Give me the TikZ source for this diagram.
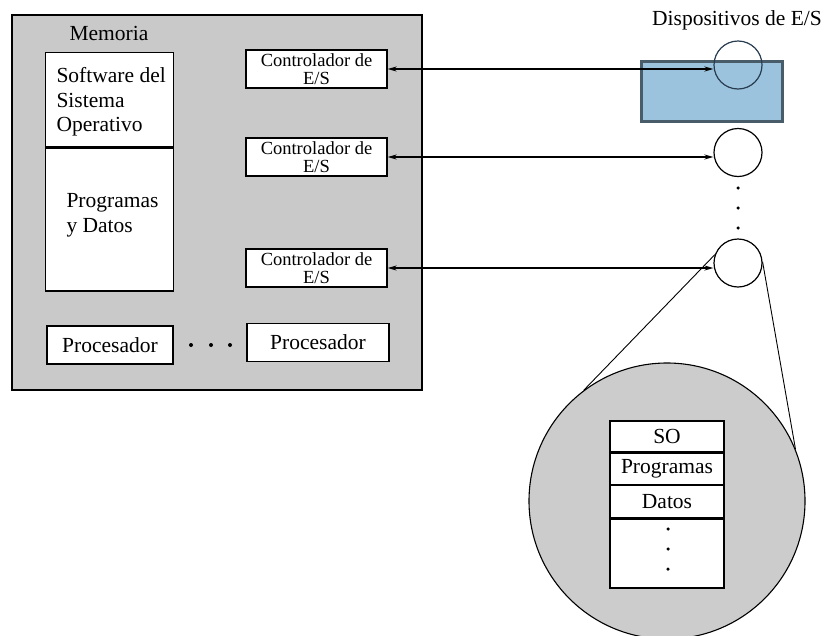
\documentclass[tikz,border=0pt]{standalone}
\usepackage{fontspec}
\setmainfont{Liberation Serif}
\usetikzlibrary{calc,positioning,arrows.meta}

\definecolor{tapa}{RGB}{156,195,221}
\definecolor{tapaborde}{RGB}{72,92,106}
\definecolor{tapalinea}{RGB}{40,60,80}

\begin{document}
\begin{tikzpicture}[>={Stealth[length=9pt,width=5pt]}, x=1pt, y=-1pt,
    box/.style={draw, fill=white, inner sep=0pt, line width=1.3pt},
    lbl/.style={font=\fontsize{21.5}{24.5}\selectfont},
    ctrl/.style={box, minimum width=141pt, minimum height=38pt, align=center,
                 font=\fontsize{18.5}{17.5}\selectfont},
    cpu/.style={box, minimum height=38pt, lbl},
    cell/.style={box, minimum width=114pt, minimum height=31pt, lbl},
    dev/.style={draw, circle, minimum size=48pt, inner sep=0pt, line width=1.2pt},
    pt/.style={fill, circle, inner sep=0pt, minimum size=4pt}]

    % Frame of the picture
    \useasboundingbox (0,0) rectangle (826,635);

    % Draw computer
    \draw[fill=gray!42, line width=1.4pt] (12,15) rectangle (422,390);
    \node[lbl, anchor=west] (memoria) at (66,33) {Memoria};

    % Draw memory
    \node[box, anchor=north west, minimum width=128pt, minimum height=94pt] (memso) at (45,52) {};
    \node[box, anchor=north, minimum width=128pt, minimum height=143pt] (memprog) at (memso.south) {};
    \node[lbl, align=left, anchor=west] (sotext) at (53,102) {Software del\\Sistema\\Operativo};
    \node[lbl, align=left, anchor=west] (progtext) at (63,215.5) {Programas\\y Datos};

    % Draw controllers
    \node[ctrl] (ctrl1) at (316.5,69) {Controlador de\\E/S};
    \node[ctrl] (ctrl2) at (316.5,157) {Controlador de\\E/S};
    \node[ctrl] (ctrl3) at (316.5,268) {Controlador de\\E/S};

    % Draw processors
    \node[cpu, minimum width=126pt] (cpu1) at (110,345) {Procesador};
    \node[cpu, minimum width=142pt] (cpu2) at (318,342.5) {Procesador};
    \foreach \x [count=\i] in {191,211,230}
        \node[pt] (cpudot\i) at (\x,345) {};

    % Draw cover under first device
    \draw[tapaborde, fill=tapa, line width=3pt] (641,61) rectangle (782,121);

    % Draw devices
    \node[font=\fontsize{21.5}{22}\selectfont] (devtitle) at (737,20) {Dispositivos de E/S};
    \node[dev, draw=tapalinea] (dev1) at (738,65) {};
    \node[dev] (dev2) at (738,152.5) {};
    \node[dev] (dev3) at (738,263) {};
    \foreach \y [count=\i] in {188,208,228}
        \node[pt, minimum size=3.5pt] (devdot\i) at (738,\y) {};

    % Draw buses
    \draw[<->, line width=1.5pt] (ctrl1.east) -- (ctrl1.east -| dev1.west);
    \draw[<->, line width=1.5pt] (ctrl2.east) -- (ctrl2.east -| dev2.west);
    \draw[<->, line width=1.5pt] (ctrl3.east) -- (ctrl3.east -| dev3.west);

    % Draw zoom of disk
    \node[draw, circle, fill=gray!40, minimum size=276pt, line width=1.1pt] (disco) at (667,501) {};
    \draw[line width=0.9pt] (dev3.160) -- (disco.127);
    \draw[line width=0.9pt] (dev3.3) -- (disco.22);

    % Draw disk contents
    \node[cell] (so) at (667,436.5) {SO};
    \node[cell, below=0pt of so] (progs) {Programas};
    \node[cell, below=0pt of progs, minimum height=32pt] (datos) {Datos};
    \node[box, below=0pt of datos, minimum width=114pt, minimum height=69pt] (resto) {};
    \foreach \y [count=\i] in {529,549,569}
        \node[pt, minimum size=3.5pt] (discodot\i) at (668,\y) {};

\end{tikzpicture}
\end{document}
